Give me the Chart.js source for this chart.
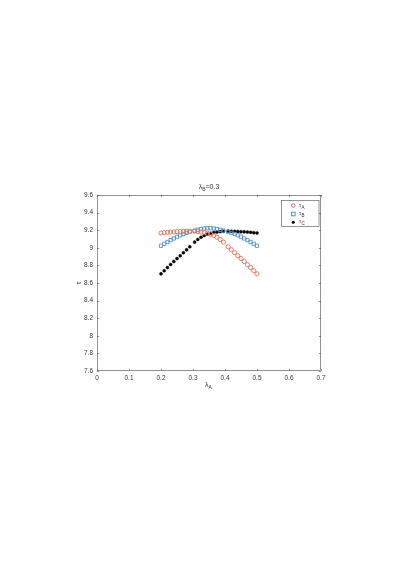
<!DOCTYPE html>
<html><head><meta charset="utf-8">
<style>html,body{margin:0;padding:0;background:#fff;}#wrap{width:407px;height:573px;position:relative;}</style>
<script src="https://cdn.jsdelivr.net/npm/chart.js@4.4.1/dist/chart.umd.min.js"></script>
</head><body><div id="wrap"><canvas id="c" width="407" height="573"></canvas></div>
<script>
const lambdaA = [0.20,0.21,0.22,0.23,0.24,0.25,0.26,0.27,0.28,0.29,
  0.305,0.315,0.325,0.335,0.345,0.355,0.365,0.375,0.385,0.395,
  0.41,0.42,0.43,0.44,0.45,0.46,0.47,0.48,0.49,0.50];
const tauA = [9.168,9.172,9.176,9.179,9.181,9.183,9.185,9.187,9.189,9.190,
  9.188,9.184,9.179,9.173,9.165,9.155,9.140,9.120,9.095,9.065,
  9.012,8.978,8.945,8.910,8.878,8.845,8.810,8.776,8.740,8.704];
const tauB = [9.023,9.045,9.066,9.087,9.106,9.125,9.142,9.157,9.170,9.182,
  9.195,9.205,9.213,9.219,9.222,9.222,9.219,9.213,9.205,9.195,
  9.182,9.170,9.157,9.142,9.125,9.106,9.087,9.066,9.045,9.023];
const tauC = [8.704,8.740,8.776,8.810,8.845,8.878,8.910,8.945,8.978,9.012,
  9.065,9.095,9.120,9.140,9.155,9.165,9.173,9.179,9.184,9.188,
  9.190,9.189,9.187,9.185,9.183,9.181,9.179,9.176,9.172,9.168];
const xTicks = [0,0.1,0.2,0.3,0.4,0.5,0.6,0.7];
const xTickLabels = ['0','0.1','0.2','0.3','0.4','0.5','0.6','0.7'];
const yTicks = [7.6,7.8,8.0,8.2,8.4,8.6,8.8,9.0,9.2,9.4,9.6];
const yTickLabels = ['7.6','7.8','8','8.2','8.4','8.6','8.8','9','9.2','9.4','9.6'];
const seriesNames = ['A','B','C'];
const colA = '#e5725a', colB = '#4f8fd3', colC = '#000000';
const axisCol = '#4d4d4d';
const FONT = '"Liberation Sans", Arial, sans-serif';

function pts(ys){ return lambdaA.map((x,i)=>({x:x,y:ys[i]})); }

function subText(ctx, main, sub, x, y, size, align){
  ctx.font = size + 'px ' + FONT;
  const w1 = ctx.measureText(main).width;
  ctx.font = (size*0.72) + 'px ' + FONT;
  const w2 = ctx.measureText(sub).width;
  return [w1,w2];
}

const deco = {
  id:'deco',
  afterDraw(chart){
    const ctx = chart.ctx, a = chart.chartArea;
    const xs = chart.scales.x, ys = chart.scales.y;
    ctx.save();
    ctx.strokeStyle = axisCol; ctx.lineWidth = 0.6;
    ctx.strokeRect(a.left+0.5, a.top+0.5, a.right-a.left-1, a.bottom-a.top-1);
    ctx.beginPath();
    xTicks.forEach(t=>{ const px = Math.round(xs.getPixelForValue(t))+0.5;
      ctx.moveTo(px,a.bottom); ctx.lineTo(px,a.bottom-2.2);
      ctx.moveTo(px,a.top); ctx.lineTo(px,a.top+2.2); });
    yTicks.forEach(t=>{ const py = Math.round(ys.getPixelForValue(t))+0.5;
      ctx.moveTo(a.left,py); ctx.lineTo(a.left+2.2,py);
      ctx.moveTo(a.right,py); ctx.lineTo(a.right-2.2,py); });
    ctx.stroke();
    ctx.fillStyle = '#333';
    ctx.textBaseline = 'alphabetic';
    // title
    const cx = (a.left+a.right)/2;
    ctx.font = '7px ' + FONT;
    const w1 = ctx.measureText('λ').width;
    ctx.font = '5px ' + FONT;
    const w2 = ctx.measureText('B').width;
    ctx.font = '7px ' + FONT;
    const w3 = ctx.measureText('=0.3').width;
    let sx = cx - (w1+w2+w3)/2;
    ctx.textAlign='left';
    ctx.fillText('λ', sx, 189);
    ctx.font = '5px ' + FONT; ctx.fillText('B', sx+w1, 191);
    ctx.font = '7px ' + FONT; ctx.fillText('=0.3', sx+w1+w2, 189);
    // x label
    ctx.font = '7px ' + FONT;
    const lw = ctx.measureText('λ').width;
    ctx.fillText('λ', cx-4, 387);
    ctx.font = '5px ' + FONT; ctx.fillText('A', cx-4+lw, 389);
    // y label
    ctx.save();
    ctx.translate(81, (a.top+a.bottom)/2);
    ctx.rotate(-Math.PI/2);
    ctx.font = '7px ' + FONT; ctx.textAlign='center';
    ctx.fillText('τ', 0, 0);
    ctx.restore();
    // legend
    const lx = 281.5, ly = 200.5, lw2 = 37.5, lh = 26;
    ctx.fillStyle='#fff'; ctx.fillRect(lx,ly,lw2,lh);
    ctx.strokeStyle = axisCol; ctx.lineWidth=0.6; ctx.strokeRect(lx,ly,lw2,lh);
    const rows = [205.5, 214, 222.3];
    const cols = [colA,colB,colC];
    rows.forEach((ry,i)=>{
      const mx = 293.3;
      ctx.lineWidth = 1;
      if(i===0){ ctx.strokeStyle=colA; ctx.beginPath(); ctx.arc(mx,ry,1.8,0,Math.PI*2); ctx.stroke(); }
      else if(i===1){ ctx.strokeStyle=colB; ctx.strokeRect(mx-1.8,ry-1.8,3.6,3.6); }
      else { ctx.fillStyle=colC; ctx.beginPath(); ctx.arc(mx,ry,1.5,0,Math.PI*2); ctx.fill(); }
      ctx.fillStyle='#333'; ctx.textAlign='left';
      ctx.font='5.5px '+FONT; ctx.fillText('τ', 299, ry+1);
      const tw = ctx.measureText('τ').width;
      ctx.font='4.5px '+FONT; ctx.fillText(seriesNames[i], 299+tw+0.3, ry+3);
    });
    ctx.restore();
  }
};

new Chart(document.getElementById('c'), {
  type:'scatter',
  data:{ datasets:[
    {label:'τA', data:pts(tauA), pointStyle:'circle', pointRadius:2.1, borderColor:colA, backgroundColor:'rgba(0,0,0,0)', borderWidth:0.9, showLine:false},
    {label:'τB', data:pts(tauB), pointStyle:'rect', pointRadius:2.3, borderColor:colB, backgroundColor:'rgba(0,0,0,0)', borderWidth:0.9, showLine:false},
    {label:'τC', data:pts(tauC), pointStyle:'circle', pointRadius:1.5, borderColor:colC, backgroundColor:colC, borderWidth:0.5, showLine:false}
  ]},
  options:{
    responsive:false, animation:false, devicePixelRatio:1,
    layout:{padding:{left:0,top:195,right:86,bottom:0}},
    plugins:{legend:{display:false}, tooltip:{enabled:false}, title:{display:false}},
    scales:{
      x:{type:'linear', min:0, max:0.7,
        afterBuildTicks(s){ s.ticks = xTicks.map(v=>({value:v})); },
        afterFit(s){ s.height = 202; },
        grid:{display:false, drawTicks:false}, border:{display:false},
        ticks:{padding:3.5, color:'#333', font:{family:FONT,size:6.5}, maxRotation:0, autoSkip:false,
          callback(v,i){ return xTickLabels[i]; }}},
      y:{type:'linear', min:7.6, max:9.6,
        afterBuildTicks(s){ s.ticks = yTicks.map(v=>({value:v})); },
        afterFit(s){ s.width = 97; },
        grid:{display:false, drawTicks:false}, border:{display:false},
        ticks:{padding:4, color:'#333', font:{family:FONT,size:6.5}, autoSkip:false,
          callback(v,i){ return yTickLabels[i]; }}}
    }
  },
  plugins:[deco]
});
</script></body></html>
